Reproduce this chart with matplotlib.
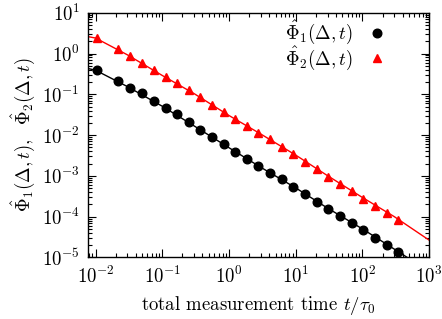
import matplotlib
matplotlib.use("Agg")
import matplotlib.pyplot as plt
from matplotlib.ticker import LogLocator, NullFormatter

plt.rcParams["font.family"] = "serif"
plt.rcParams["font.serif"] = ["cmr10"]
plt.rcParams["mathtext.fontset"] = "cm"
plt.rcParams["axes.formatter.use_mathtext"] = True
plt.rcParams["axes.unicode_minus"] = False

t_pts = [0.0107, 0.0218, 0.0327, 0.049, 0.0757, 0.113, 0.168, 0.248, 0.366,
         0.548, 0.839, 1.225, 1.84, 2.74, 4.10, 6.15, 9.18, 13.7, 20.6, 30.7,
         46.0, 68.9, 103, 154, 231, 344]
phi1_pts = [0.393, 0.214, 0.144, 0.109, 0.0692, 0.0467, 0.0321, 0.0211, 0.0132,
            0.00891, 0.0060, 0.00388, 0.00253, 0.00173, 0.00115, 8.16e-4,
            5.37e-4, 3.50e-4, 2.30e-4, 1.52e-4, 1.03e-4, 7.03e-5, 4.65e-5,
            3.08e-5, 1.99e-5, 1.36e-5]
phi2_pts = [2.35, 1.26, 0.865, 0.593, 0.393, 0.269, 0.185, 0.127, 0.0853,
            0.0543, 0.0360, 0.0246, 0.0169, 0.0114, 0.00782, 0.00515, 0.00341,
            0.00217, 0.00144, 9.45e-4, 6.50e-4, 4.28e-4, 2.73e-4, 1.80e-4,
            1.24e-4, 8.18e-5]

# Fit curves (solid lines)
t_fit = [0.0077, 0.01, 0.03, 0.1, 0.3, 1, 3, 10, 30, 100, 300, 1000]
phi1_fit = [0.43, 0.39, 0.155, 0.051, 0.0168, 0.0049, 0.00162, 5.07e-4,
            1.62e-4, 5.0e-5, 1.6e-5, 4.5e-6]
phi2_fit = [2.6, 2.4, 0.93, 0.29, 0.104, 0.0302, 0.0106, 0.00323, 0.00101,
            2.95e-4, 1.0e-4, 2.65e-5]

FS = 13.5

fig = plt.figure(figsize=(4.42, 3.19), dpi=100)
ax = fig.add_axes([0.199, 0.193, 0.772, 0.767])

ax.plot(t_fit, phi1_fit, color="black", lw=1.0)
ax.plot(t_fit, phi2_fit, color="red", lw=1.0)
ax.plot(t_pts, phi1_pts, "o", color="black", ms=6.2, ls="none",
        label=r"$\hat{\Phi}_1(\Delta,t)$")
ax.plot(t_pts, phi2_pts, "^", color="red", ms=6.2, ls="none",
        label=r"$\hat{\Phi}_2(\Delta,t)$")

ax.set_xscale("log")
ax.set_yscale("log")
ax.set_xlim(0.0077, 1000)
ax.set_ylim(1e-5, 10)

ax.xaxis.set_major_locator(LogLocator(base=10, numticks=10))
ax.yaxis.set_major_locator(LogLocator(base=10, numticks=10))
ax.xaxis.set_minor_locator(LogLocator(base=10, subs=range(2, 10), numticks=20))
ax.yaxis.set_minor_locator(LogLocator(base=10, subs=range(2, 10), numticks=20))
ax.xaxis.set_minor_formatter(NullFormatter())
ax.yaxis.set_minor_formatter(NullFormatter())

ax.tick_params(which="both", direction="in", top=True, right=True,
               labelsize=FS, width=0.8)
ax.tick_params(which="major", length=6, pad=6)
ax.tick_params(which="minor", length=3)
for s in ax.spines.values():
    s.set_linewidth(1.0)

ax.set_xlabel(r"total measurement time $t/\tau_0$", fontsize=FS, labelpad=5)
ax.set_ylabel(r"$\hat{\Phi}_1(\Delta,t),\ \ \hat{\Phi}_2(\Delta,t)$",
              fontsize=FS, labelpad=3)

ax.legend(loc="upper right", frameon=False, markerfirst=False, fontsize=FS,
          handletextpad=0.33, labelspacing=-0.12, borderaxespad=0.0,
          borderpad=0.1, bbox_to_anchor=(0.908, 0.984))

fig.savefig("out.png", dpi=100)
